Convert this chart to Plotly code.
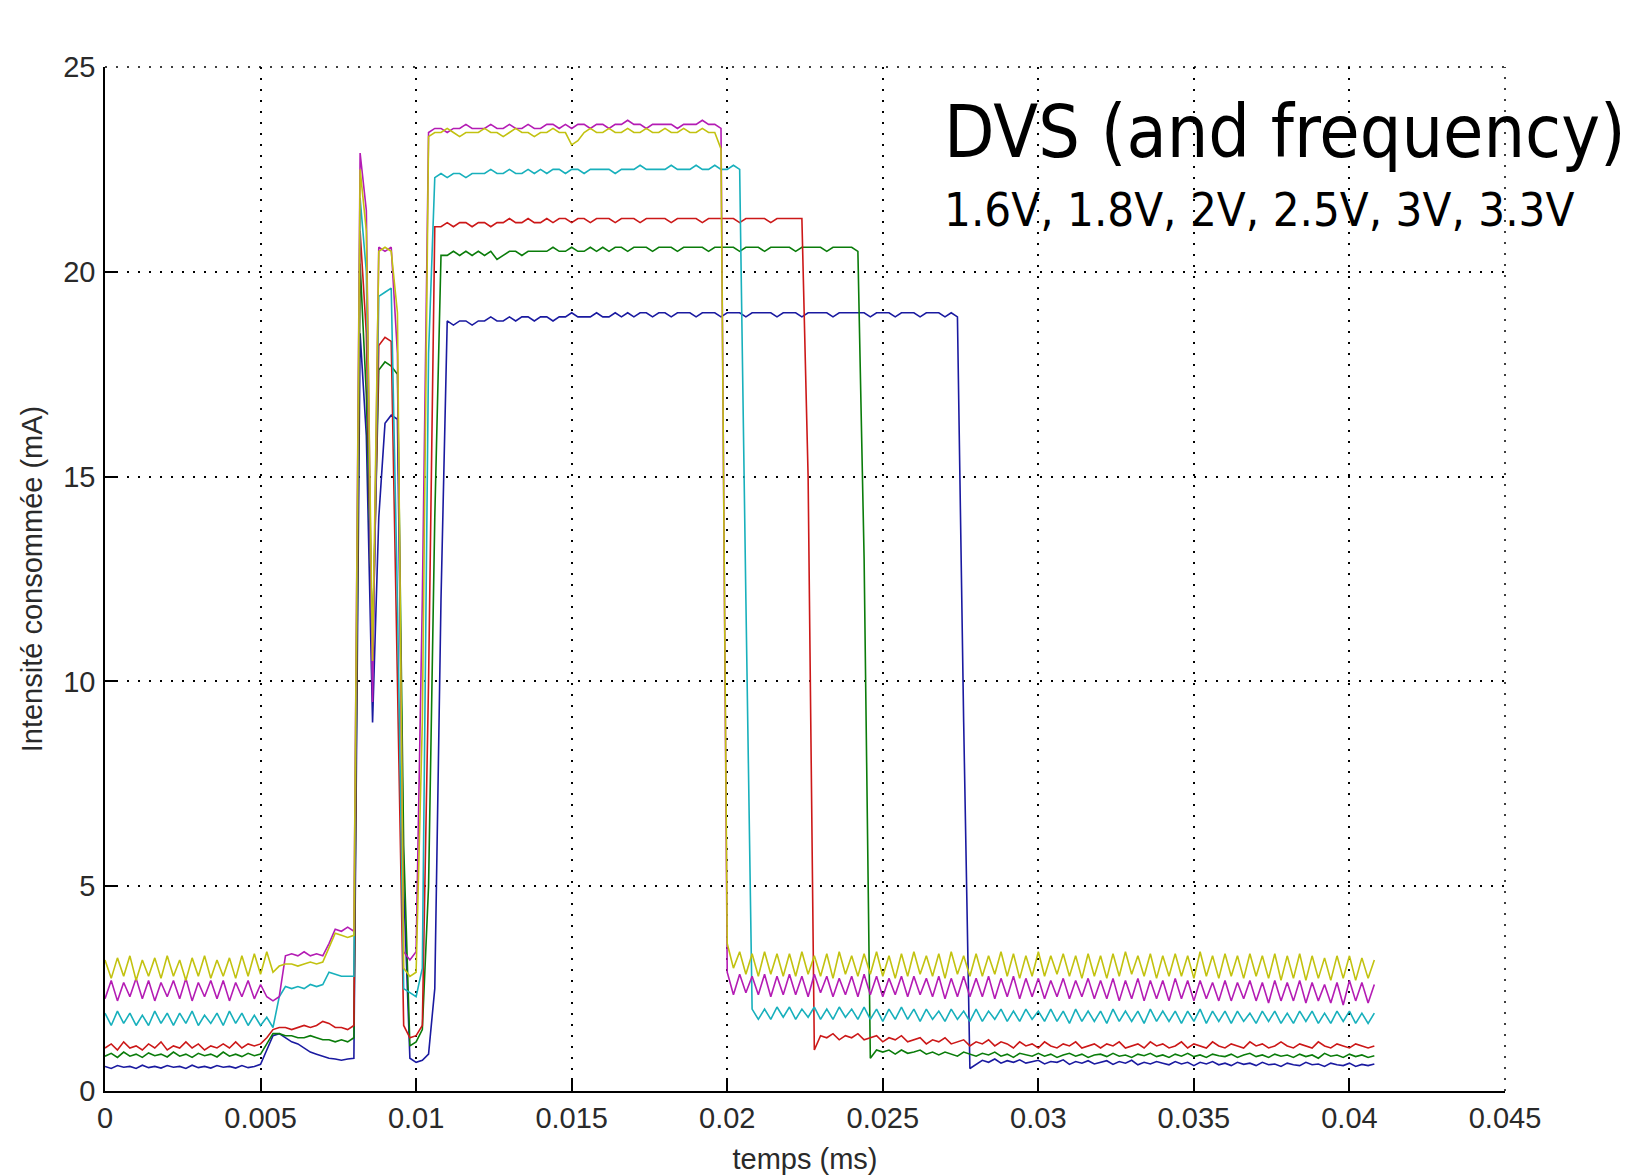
import plotly.graph_objects as go

# Sampling of the recorded traces (ms)
t_start = 0.0
t_step = 0.0002

x_ticks = [0, 0.005, 0.01, 0.015, 0.02, 0.025, 0.03, 0.035, 0.04, 0.045]
x_tick_text = ["0", "0.005", "0.01", "0.015", "0.02", "0.025", "0.03", "0.035", "0.04", "0.045"]
y_ticks = [0, 5, 10, 15, 20, 25]
y_tick_text = ["0", "5", "10", "15", "20", "25"]

# current (mA), one value every 0.0002 ms
i_1v6 = [  # blue
    0.6, 0.55, 0.62, 0.58, 0.6, 0.55, 0.63, 0.57, 0.6, 0.56,
    0.62, 0.58, 0.6, 0.55, 0.63, 0.57, 0.6, 0.56, 0.62, 0.58,
    0.6, 0.56, 0.62, 0.57, 0.6, 0.65, 1.0, 1.35, 1.4, 1.3,
    1.2, 1.15, 1.05, 0.95, 0.9, 0.85, 0.8, 0.78, 0.75, 0.78,
    0.8, 18.5, 16.0, 9.0, 14.0, 16.3, 16.5, 16.4, 5.0, 0.8,
    0.7, 0.75, 0.9, 2.5, 12.0, 18.8, 18.7, 18.8, 18.8, 18.7,
    18.8, 18.8, 18.9, 18.8, 18.8, 18.9, 18.8, 18.9, 18.9, 18.8,
    18.9, 18.9, 18.8, 18.9, 18.9, 19.0, 18.9, 18.9, 18.9, 19.0,
    18.9, 18.9, 19.0, 18.9, 19.0, 18.9, 19.0, 19.0, 18.9, 19.0,
    19.0, 18.9, 19.0, 19.0, 19.0, 18.9, 19.0, 19.0, 19.0, 18.9,
    19.0, 19.0, 19.0, 18.9, 19.0, 19.0, 19.0, 19.0, 18.9, 19.0,
    19.0, 19.0, 18.9, 19.0, 19.0, 19.0, 19.0, 18.9, 19.0, 19.0,
    19.0, 19.0, 19.0, 18.9, 19.0, 19.0, 19.0, 18.9, 19.0, 19.0,
    19.0, 18.9, 19.0, 19.0, 19.0, 18.9, 19.0, 18.9, 9.0, 0.55,
    0.65, 0.75, 0.7, 0.78, 0.68, 0.74, 0.7, 0.76, 0.68, 0.72,
    0.75, 0.66, 0.72, 0.7, 0.76, 0.65, 0.72, 0.68, 0.74, 0.66,
    0.7, 0.74, 0.65, 0.72, 0.68, 0.75, 0.64, 0.7, 0.66, 0.72,
    0.68, 0.64, 0.72, 0.66, 0.7, 0.62, 0.7, 0.66, 0.72, 0.64,
    0.68, 0.62, 0.7, 0.65, 0.68, 0.62, 0.7, 0.64, 0.66, 0.6,
    0.68, 0.64, 0.62, 0.7, 0.64, 0.66, 0.6, 0.68, 0.64, 0.62,
    0.68, 0.6, 0.65, 0.62, 0.66,
]

i_1v8 = [  # green
    0.85, 0.92, 0.82, 0.95, 0.85, 0.9, 0.82, 0.93, 0.86, 0.9,
    0.83, 0.95, 0.85, 0.9, 0.82, 0.92, 0.86, 0.9, 0.83, 0.95,
    0.85, 0.9, 0.84, 0.92, 0.86, 0.9, 1.15, 1.4, 1.4, 1.35,
    1.35, 1.3, 1.3, 1.35, 1.3, 1.25, 1.25, 1.2, 1.25, 1.2,
    1.3, 20.2, 17.0, 11.0, 17.6, 17.8, 17.7, 17.5, 6.0, 1.1,
    1.2, 1.5, 5.0, 14.0, 20.4, 20.4, 20.5, 20.4, 20.5, 20.4,
    20.5, 20.4, 20.5, 20.3, 20.4, 20.5, 20.5, 20.4, 20.5, 20.5,
    20.5, 20.5, 20.6, 20.5, 20.5, 20.6, 20.5, 20.5, 20.6, 20.5,
    20.6, 20.5, 20.6, 20.6, 20.5, 20.6, 20.6, 20.6, 20.5, 20.6,
    20.6, 20.6, 20.5, 20.6, 20.6, 20.6, 20.6, 20.5, 20.6, 20.6,
    20.6, 20.6, 20.5, 20.6, 20.6, 20.6, 20.5, 20.6, 20.6, 20.6,
    20.6, 20.5, 20.6, 20.6, 20.6, 20.6, 20.5, 20.6, 20.6, 20.6,
    20.6, 20.5, 13.0, 0.8, 1.0, 0.95, 1.0, 0.9, 1.0, 0.92,
    0.95, 1.0, 0.9, 0.95, 0.88, 0.95, 0.9, 0.85, 0.95, 0.9,
    0.85, 0.92, 0.88, 0.95, 0.85, 0.9, 0.82, 0.92, 0.88, 0.85,
    0.92, 0.85, 0.9, 0.82, 0.88, 0.92, 0.85, 0.9, 0.82, 0.88,
    0.9, 0.84, 0.92, 0.85, 0.88, 0.82, 0.9, 0.86, 0.92, 0.84,
    0.88, 0.82, 0.9, 0.85, 0.92, 0.84, 0.88, 0.82, 0.9, 0.86,
    0.84, 0.9, 0.82, 0.88, 0.92, 0.84, 0.88, 0.82, 0.9, 0.85,
    0.88, 0.82, 0.9, 0.84, 0.88, 0.8, 0.92, 0.85, 0.88, 0.82,
    0.9, 0.84, 0.88, 0.82, 0.86,
]

i_2v0 = [  # red
    1.05, 1.15, 1.0, 1.2, 1.05, 1.1, 1.0, 1.15, 1.05, 1.2,
    1.0, 1.1, 1.05, 1.2, 1.05, 1.15, 1.0, 1.1, 1.05, 1.15,
    1.05, 1.2, 1.05, 1.15, 1.1, 1.15, 1.3, 1.5, 1.55, 1.55,
    1.5, 1.55, 1.6, 1.55, 1.6, 1.7, 1.65, 1.55, 1.55, 1.5,
    1.6, 21.0, 18.5, 10.5, 18.2, 18.4, 18.3, 10.0, 1.6, 1.3,
    1.35, 1.6, 10.0, 21.1, 21.1, 21.2, 21.1, 21.2, 21.2, 21.1,
    21.2, 21.2, 21.1, 21.2, 21.2, 21.3, 21.2, 21.2, 21.3, 21.2,
    21.2, 21.3, 21.2, 21.3, 21.3, 21.2, 21.3, 21.3, 21.2, 21.3,
    21.3, 21.3, 21.2, 21.3, 21.3, 21.3, 21.2, 21.3, 21.3, 21.3,
    21.3, 21.2, 21.3, 21.3, 21.3, 21.3, 21.2, 21.3, 21.3, 21.3,
    21.3, 21.3, 21.2, 21.3, 21.3, 21.3, 21.3, 21.2, 21.3, 21.3,
    21.3, 21.3, 21.3, 15.0, 1.0, 1.35, 1.3, 1.4, 1.25, 1.35,
    1.3, 1.4, 1.25, 1.3, 1.35, 1.2, 1.3, 1.25, 1.35, 1.2,
    1.25, 1.3, 1.15, 1.25, 1.2, 1.3, 1.15, 1.2, 1.25, 1.1,
    1.2, 1.15, 1.25, 1.1, 1.2, 1.15, 1.05, 1.2, 1.1, 1.15,
    1.05, 1.2, 1.1, 1.05, 1.15, 1.1, 1.2, 1.05, 1.1, 1.15,
    1.05, 1.15, 1.1, 1.2, 1.05, 1.1, 1.15, 1.05, 1.2, 1.1,
    1.15, 1.05, 1.1, 1.2, 1.05, 1.15, 1.1, 1.05, 1.2, 1.1,
    1.05, 1.15, 1.1, 1.05, 1.2, 1.1, 1.15, 1.05, 1.1, 1.2,
    1.1, 1.05, 1.15, 1.1, 1.05, 1.2, 1.1, 1.05, 1.15, 1.1,
    1.05, 1.15, 1.1, 1.05, 1.1,
]

i_2v5 = [  # cyan
    1.9, 1.6, 1.95, 1.65, 1.9, 1.6, 1.85, 1.6, 1.95, 1.65,
    1.9, 1.6, 1.9, 1.65, 1.95, 1.6, 1.85, 1.65, 1.9, 1.6,
    1.95, 1.65, 1.9, 1.6, 1.85, 1.6, 1.8, 1.55, 2.3, 2.55,
    2.5, 2.55, 2.5, 2.6, 2.55, 2.6, 2.9, 2.85, 2.8, 2.8,
    2.8, 21.8, 20.0, 10.0, 19.4, 19.5, 19.6, 12.0, 2.5, 2.4,
    2.3, 3.0, 18.0, 22.3, 22.4, 22.3, 22.4, 22.4, 22.3, 22.4,
    22.4, 22.4, 22.5, 22.4, 22.4, 22.5, 22.4, 22.4, 22.5, 22.4,
    22.5, 22.4, 22.5, 22.5, 22.4, 22.5, 22.5, 22.4, 22.5, 22.5,
    22.5, 22.5, 22.4, 22.5, 22.5, 22.5, 22.6, 22.5, 22.5, 22.5,
    22.5, 22.6, 22.5, 22.5, 22.5, 22.6, 22.5, 22.5, 22.6, 22.5,
    22.5, 22.6, 22.5, 12.0, 2.0, 1.75, 2.0, 1.75, 2.05, 1.8,
    2.05, 1.75, 2.0, 1.8, 2.05, 1.75, 2.0, 1.75, 2.05, 1.8,
    2.0, 1.75, 2.05, 1.75, 2.0, 1.7, 2.0, 1.75, 2.05, 1.75,
    2.0, 1.7, 2.0, 1.75, 1.95, 1.7, 2.0, 1.75, 1.95, 1.7,
    2.0, 1.7, 1.95, 1.75, 2.0, 1.7, 1.95, 1.7, 2.0, 1.75,
    1.95, 1.7, 2.0, 1.7, 1.95, 1.65, 2.0, 1.7, 1.95, 1.7,
    1.95, 1.65, 2.0, 1.7, 1.95, 1.7, 1.95, 1.65, 2.0, 1.7,
    1.95, 1.7, 1.95, 1.65, 1.95, 1.7, 2.0, 1.65, 1.95, 1.7,
    1.95, 1.65, 1.95, 1.7, 1.9, 1.65, 1.95, 1.7, 1.95, 1.65,
    1.9, 1.65, 1.95, 1.7, 1.95, 1.65, 1.9, 1.65, 1.95, 1.7,
    1.95, 1.65, 1.9, 1.65, 1.9,
]

i_3v0 = [  # magenta
    2.25, 2.7, 2.2, 2.65, 2.3, 2.75, 2.25, 2.7, 2.2, 2.65,
    2.3, 2.7, 2.25, 2.75, 2.2, 2.65, 2.3, 2.7, 2.25, 2.7,
    2.2, 2.65, 2.3, 2.7, 2.25, 2.6, 2.3, 2.2, 2.3, 3.3,
    3.35, 3.3, 3.4, 3.3, 3.35, 3.3, 3.6, 3.95, 3.9, 4.0,
    3.9, 22.9, 21.5, 9.5, 20.6, 20.5, 20.6, 18.0, 3.4, 3.2,
    3.4, 12.0, 23.4, 23.5, 23.5, 23.4, 23.5, 23.5, 23.6, 23.5,
    23.5, 23.5, 23.6, 23.5, 23.5, 23.6, 23.5, 23.5, 23.6, 23.5,
    23.5, 23.6, 23.6, 23.5, 23.6, 23.5, 23.6, 23.6, 23.5, 23.6,
    23.6, 23.5, 23.6, 23.6, 23.7, 23.6, 23.6, 23.5, 23.6, 23.6,
    23.6, 23.6, 23.5, 23.6, 23.6, 23.6, 23.7, 23.6, 23.6, 23.5,
    2.9, 2.35, 2.85, 2.4, 2.8, 2.35, 2.85, 2.3, 2.8, 2.35,
    2.85, 2.35, 2.8, 2.3, 2.85, 2.4, 2.8, 2.3, 2.75, 2.35,
    2.8, 2.3, 2.85, 2.35, 2.8, 2.3, 2.75, 2.35, 2.8, 2.3,
    2.8, 2.35, 2.75, 2.3, 2.8, 2.25, 2.75, 2.3, 2.8, 2.3,
    2.75, 2.3, 2.8, 2.25, 2.75, 2.3, 2.8, 2.25, 2.75, 2.3,
    2.75, 2.25, 2.7, 2.3, 2.75, 2.25, 2.7, 2.3, 2.75, 2.25,
    2.7, 2.25, 2.75, 2.2, 2.7, 2.25, 2.75, 2.2, 2.7, 2.25,
    2.7, 2.2, 2.75, 2.25, 2.7, 2.2, 2.7, 2.25, 2.65, 2.2,
    2.7, 2.2, 2.65, 2.25, 2.7, 2.2, 2.65, 2.15, 2.7, 2.2,
    2.65, 2.2, 2.7, 2.15, 2.65, 2.2, 2.6, 2.15, 2.65, 2.1,
    2.7, 2.2, 2.65, 2.15, 2.6,
]

i_3v3 = [  # yellow
    3.2, 2.75, 3.25, 2.8, 3.3, 2.7, 3.2, 2.8, 3.25, 2.75,
    3.3, 2.8, 3.2, 2.7, 3.25, 2.8, 3.3, 2.75, 3.2, 2.8,
    3.25, 2.75, 3.3, 2.8, 3.35, 2.85, 3.4, 2.9, 3.05, 3.1,
    3.1, 3.05, 3.1, 3.15, 3.1, 3.15, 3.5, 3.85, 3.8, 3.75,
    3.8, 22.5, 21.0, 10.5, 20.5, 20.6, 20.5, 19.0, 3.0, 2.8,
    2.9, 9.0, 23.3, 23.4, 23.4, 23.5, 23.4, 23.3, 23.4, 23.4,
    23.4, 23.5, 23.4, 23.4, 23.3, 23.4, 23.5, 23.4, 23.4, 23.3,
    23.4, 23.4, 23.5, 23.4, 23.4, 23.1, 23.2, 23.4, 23.5, 23.4,
    23.4, 23.5, 23.4, 23.4, 23.5, 23.4, 23.4, 23.5, 23.4, 23.4,
    23.5, 23.4, 23.4, 23.5, 23.4, 23.4, 23.5, 23.4, 23.4, 23.0,
    3.6, 3.0, 3.4, 2.85, 3.35, 2.8, 3.4, 2.85, 3.35, 2.8,
    3.35, 2.8, 3.4, 2.85, 3.3, 2.8, 3.35, 2.75, 3.4, 2.85,
    3.3, 2.8, 3.35, 2.85, 3.4, 2.8, 3.3, 2.75, 3.35, 2.8,
    3.4, 2.85, 3.3, 2.8, 3.35, 2.75, 3.4, 2.85, 3.3, 2.8,
    3.35, 2.8, 3.3, 2.85, 3.4, 2.8, 3.35, 2.75, 3.3, 2.8,
    3.4, 2.8, 3.3, 2.85, 3.35, 2.8, 3.3, 2.75, 3.35, 2.8,
    3.3, 2.75, 3.35, 2.8, 3.4, 2.85, 3.3, 2.8, 3.35, 2.75,
    3.3, 2.8, 3.35, 2.8, 3.3, 2.75, 3.4, 2.8, 3.3, 2.75,
    3.35, 2.8, 3.3, 2.75, 3.35, 2.8, 3.3, 2.75, 3.35, 2.7,
    3.3, 2.75, 3.35, 2.7, 3.3, 2.75, 3.25, 2.7, 3.3, 2.75,
    3.3, 2.7, 3.25, 2.75, 3.2,
]

series = [
    ("1.6V", i_1v6, "#1a1aa0"),
    ("1.8V", i_1v8, "#0a7c0a"),
    ("2V", i_2v0, "#cc1818"),
    ("2.5V", i_2v5, "#18b0bc"),
    ("3V", i_3v0, "#b41cb4"),
    ("3.3V", i_3v3, "#c2c210"),
]

fig = go.Figure()
for name, vals, col in series:
    fig.add_trace(go.Scatter(
        x0=t_start, dx=t_step, y=vals, mode="lines", name=name,
        line=dict(color=col, width=1.6), showlegend=False,
    ))

axis_font = dict(family="Liberation Sans, Arial, sans-serif", size=29, color="#2a2a2a")
grid_dash = "2px,9px"
grid_common = dict(
    showgrid=True, gridcolor="#000000", gridwidth=1.5, griddash=grid_dash,
    zeroline=False, showline=True, linecolor="#000000", linewidth=1.5,
    ticks="inside", ticklen=13, tickwidth=1.5, tickcolor="#000000",
    tickfont=axis_font, mirror=False, automargin=False,
)

fig.update_layout(
    width=1648, height=1175,
    margin=dict(l=105, r=143, t=67, b=84),
    paper_bgcolor="white", plot_bgcolor="white",
    xaxis=dict(
        range=[0, 0.045], tickmode="array", tickvals=x_ticks, ticktext=x_tick_text,
        title=dict(text="temps (ms)", font=axis_font, standoff=16),
        ticklabelstandoff=0, **grid_common,
    ),
    yaxis=dict(
        range=[0, 25], tickmode="array", tickvals=y_ticks, ticktext=y_tick_text,
        title=dict(text="Intensité consommée (mA)", font=axis_font, standoff=12),
        ticklabelstandoff=2, **grid_common,
    ),
    shapes=[
        # top and right edges of the box are dotted grid lines at 25 mA and 0.045 ms
        dict(type="line", xref="paper", yref="paper", x0=0, x1=1, y0=1, y1=1,
             line=dict(color="#000000", width=1.5, dash=grid_dash), layer="above"),
        dict(type="line", xref="paper", yref="paper", x0=1, x1=1, y0=0, y1=1,
             line=dict(color="#000000", width=1.5, dash=grid_dash), layer="above"),
    ],
    annotations=[
        dict(text="DVS (and frequency)", xref="paper", yref="paper",
             x=0.5975, y=0.9805, xanchor="left", yanchor="top", showarrow=False,
             font=dict(family="DejaVu Sans Condensed, DejaVu Sans", size=73, color="#000000")),
        dict(text="1.6V, 1.8V, 2V, 2.5V, 3V, 3.3V", xref="paper", yref="paper",
             x=0.5975, y=0.8895, xanchor="left", yanchor="top", showarrow=False,
             font=dict(family="DejaVu Sans Condensed, DejaVu Sans", size=47, color="#000000")),
    ],
)

fig.write_html("out.html")
